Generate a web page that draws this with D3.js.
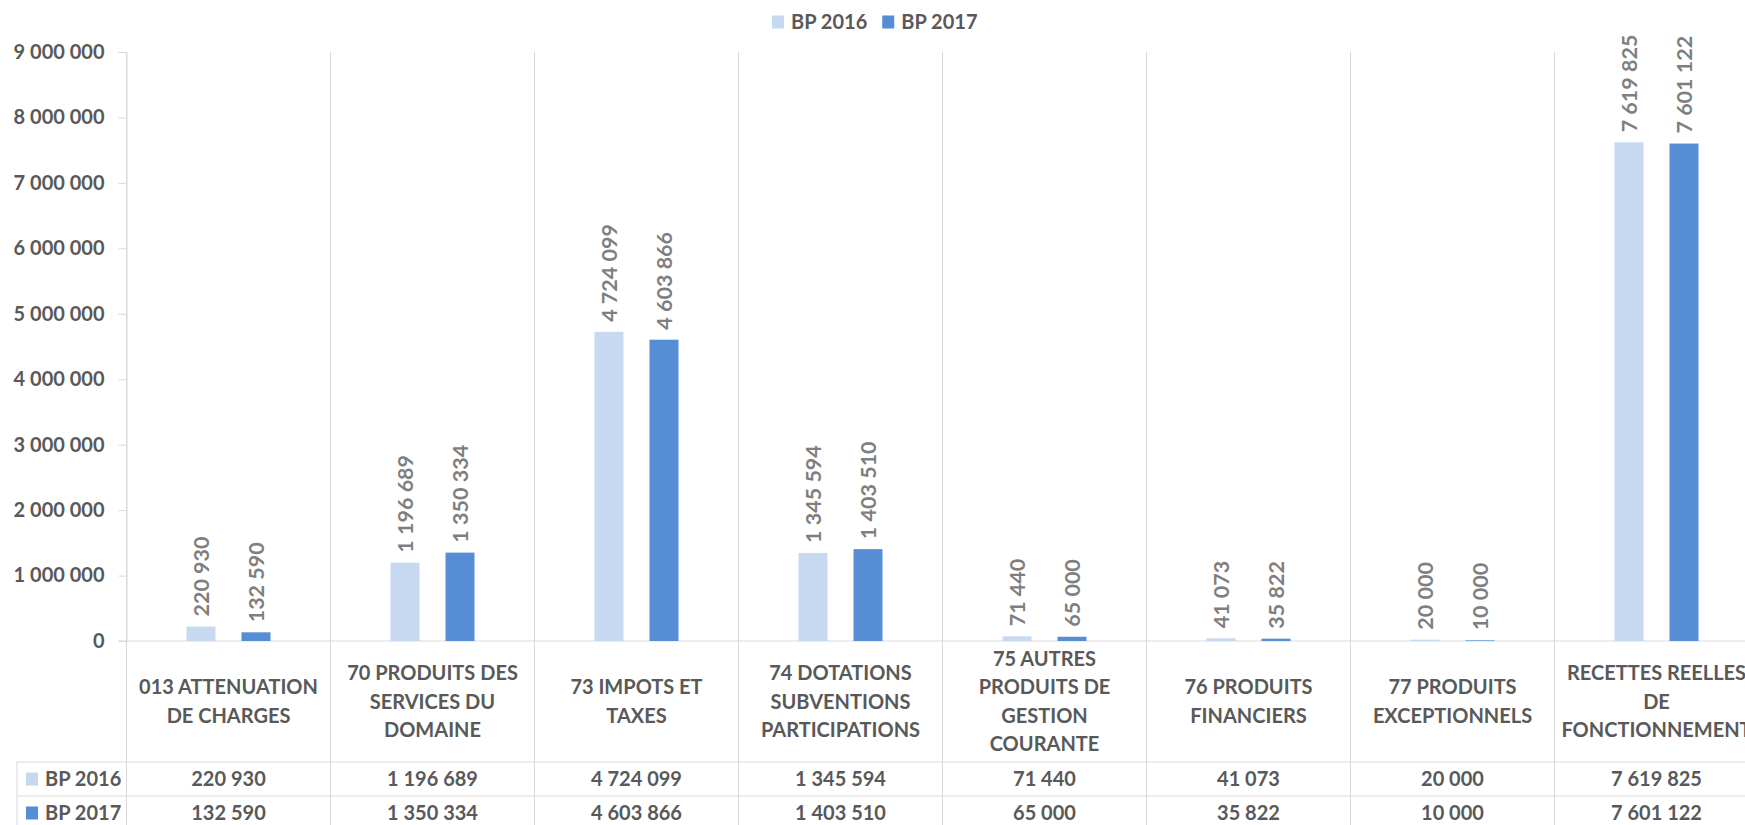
<!DOCTYPE html>
<html>
<head>
<meta charset="utf-8">
<script src="https://cdn.jsdelivr.net/npm/d3@7"></script>
<style>
  body { margin: 0; background: #fff; }
  svg { display: block; font-family: Lato, "Open Sans", sans-serif; font-weight: bold; }
</style>
</head>
<body>
<svg id="chart"></svg>
<script>
// categories (line breaks with |)
const categories = [
    "013 ATTENUATION|DE CHARGES",
    "70 PRODUITS DES|SERVICES DU|DOMAINE",
    "73 IMPOTS ET|TAXES",
    "74 DOTATIONS|SUBVENTIONS|PARTICIPATIONS",
    "75 AUTRES|PRODUITS DE|GESTION|COURANTE",
    "76 PRODUITS|FINANCIERS",
    "77 PRODUITS|EXCEPTIONNELS",
    "RECETTES REELLES|DE|FONCTIONNEMENT"
]
const seriesNames = ["BP 2016", "BP 2017"]
const bp2016 = [220930, 1196689, 4724099, 1345594, 71440, 41073, 20000, 7619825]
const bp2017 = [132590, 1350334, 4603866, 1403510, 65000, 35822, 10000, 7601122]
const yTicks = [0, 1000000, 2000000, 3000000, 4000000, 5000000, 6000000, 7000000, 8000000, 9000000]

const colors = ["#c6d9f1", "#558ed5"]
const series = [bp2016, bp2017]

const W = 1745, H = 825
const plot = {left: 126.5, top: 52, bottom: 641, band: 204}
const table = {left: 17, top: 762, row: 34}

const fr = d3.formatLocale({decimal: ",", thousands: "\u00a0", grouping: [3], currency: ["", " €"]})
const fmt = fr.format(",d")

const svg = d3.select("#chart").attr("width", W).attr("height", H)

const x0 = d3.scaleBand()
    .domain(d3.range(categories.length))
    .range([plot.left, plot.left + plot.band * categories.length])
    .paddingInner(0).paddingOuter(0)

// two bars, ~29px wide, ~26px apart, centred in the band
const x1 = d3.scaleBand()
    .domain([0, 1])
    .range([plot.band / 2 - 42, plot.band / 2 + 42])
    .paddingInner(0.473)

const y = d3.scaleLinear().domain([0, 9000000]).range([plot.bottom, plot.top])

const grid = "#d9d9d9"
const textDark = "#595959"

// vertical separators (plot + labels + table)
svg.append("g")
    .selectAll("line")
    .data(d3.range(categories.length + 1))
    .join("line")
        .attr("x1", d => plot.left + d * plot.band)
        .attr("x2", d => plot.left + d * plot.band)
        .attr("y1", plot.top)
        .attr("y2", H)
        .attr("stroke", grid)
        .attr("stroke-width", 1)

// table lines
svg.append("line")
    .attr("x1", table.left).attr("x2", W).attr("y1", table.top).attr("y2", table.top)
    .attr("stroke", grid)
svg.append("line")
    .attr("x1", table.left).attr("x2", W).attr("y1", table.top + table.row).attr("y2", table.top + table.row)
    .attr("stroke", grid)
svg.append("line")
    .attr("x1", table.left).attr("x2", table.left).attr("y1", table.top).attr("y2", H)
    .attr("stroke", grid)

// y axis
const yAxis = svg.append("g")
    .attr("transform", `translate(${plot.left},0)`)
    .call(d3.axisLeft(y).tickValues(yTicks).tickFormat(fmt).tickSize(8).tickPadding(14))
yAxis.select(".domain").attr("stroke", grid)
yAxis.selectAll(".tick line").attr("stroke", grid)
yAxis.selectAll(".tick text")
    .attr("fill", textDark)
    .style("font-size", "20px")
    .style("font-family", "Lato, sans-serif")
    .style("font-weight", "bold")

// zero baseline
svg.append("line")
    .attr("x1", plot.left - 8).attr("x2", W)
    .attr("y1", y(0)).attr("y2", y(0))
    .attr("stroke", grid)

// bars
const groups = svg.append("g")
    .selectAll("g")
    .data(categories.map((c, i) => i))
    .join("g")
        .attr("transform", i => `translate(${x0(i)},0)`)

groups.selectAll("rect")
    .data(i => series.map((s, k) => ({k: k, v: s[i]})))
    .join("rect")
        .attr("x", d => x1(d.k))
        .attr("width", x1.bandwidth())
        .attr("y", d => y(d.v))
        .attr("height", d => y(0) - y(d.v))
        .attr("fill", d => colors[d.k])

// data labels, rotated
groups.selectAll("text")
    .data(i => series.map((s, k) => ({k: k, v: s[i]})))
    .join("text")
        .attr("transform", d => `translate(${x1(d.k) + x1.bandwidth() / 2},${y(d.v) - 10}) rotate(-90)`)
        .attr("dy", "0.36em")
        .attr("fill", "#7f7f7f")
        .style("font-size", "21.5px")
        .text(d => fmt(d.v))

// category labels
const lineH = 28.5
svg.append("g")
    .selectAll("text")
    .data(categories)
    .join("text")
        .attr("text-anchor", "middle")
        .attr("fill", textDark)
        .style("font-size", "20px")
        .each(function(d, i) {
            let lines = d.split("|")
            let cy = (plot.bottom + table.top) / 2
            let start = cy - (lines.length - 1) * lineH / 2
            d3.select(this).selectAll("tspan")
                .data(lines)
                .join("tspan")
                    .attr("x", x0(i) + plot.band / 2)
                    .attr("y", (l, j) => start + j * lineH)
                    .attr("dy", "0.36em")
                    .text(l => l)
        })

// table rows
seriesNames.forEach((name, k) => {
    let cy = table.top + table.row * k + table.row / 2
    svg.append("rect")
        .attr("x", 26).attr("y", cy - 6.5)
        .attr("width", 12).attr("height", 13)
        .attr("fill", colors[k])
    svg.append("text")
        .attr("x", 45).attr("y", cy).attr("dy", "0.36em")
        .attr("fill", textDark)
        .style("font-size", "20px")
        .text(name)
    svg.append("g")
        .selectAll("text")
        .data(series[k])
        .join("text")
            .attr("x", (v, i) => x0(i) + plot.band / 2)
            .attr("y", cy).attr("dy", "0.36em")
            .attr("text-anchor", "middle")
            .attr("fill", textDark)
            .style("font-size", "20px")
            .text(v => fmt(v))
})

// legend
const legend = svg.append("g").attr("transform", "translate(772,22)")
let lx = 0
seriesNames.forEach((name, k) => {
    legend.append("rect")
        .attr("x", lx).attr("y", -6.5)
        .attr("width", 12).attr("height", 13)
        .attr("fill", colors[k])
    let t = legend.append("text")
        .attr("x", lx + 19).attr("dy", "0.36em")
        .attr("fill", textDark)
        .style("font-size", "20px")
        .text(name)
    lx += 19 + t.node().getComputedTextLength() + 15
})
</script>
</body>
</html>
